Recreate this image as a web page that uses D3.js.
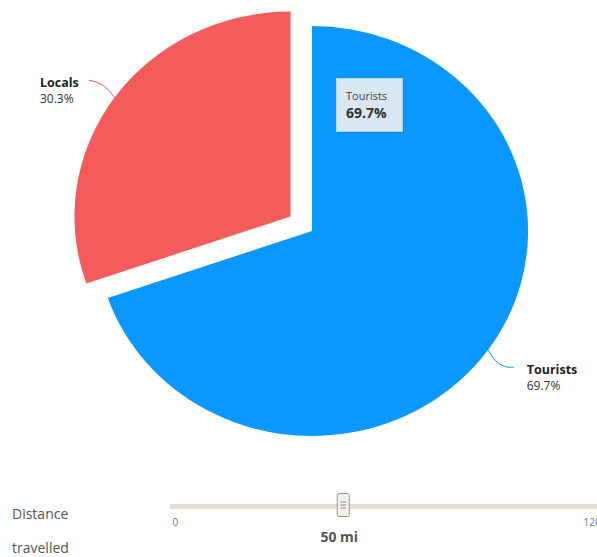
<!DOCTYPE html>
<html>
<head>
<meta charset="utf-8">
<script src="https://cdn.jsdelivr.net/npm/d3@7"></script>
<style>
  body { margin: 0; background: #fff; }
  svg { display: block; font-family: 'Open Sans', sans-serif; }
</style>
</head>
<body>
<div id="app"></div>
<script>
'use strict'

// data
const categories = ['Tourists', 'Locals'];
const shares = [69.7, 30.3];
const colors = ['#0a98fe', '#f45b5b'];
const explodedCategory = 'Locals';
const tooltipCategory = 'Tourists';

const sliderTicks = [0, 120];
const sliderValue = 50;
const sliderUnit = 'mi';
const sliderLabel = ['Distance', 'travelled'];

const width = 597;
const height = 557;

let svg = (
  d3.select('#app')
    .append('svg')
    .attr('width', width)
    .attr('height', height));

// Pie
let cx = 312, cy = 231, r = 205, sx = 1.054, explode = 25;
let pie = d3.pie().sort(null).value((d) => d.value);
let arcs = pie(categories.map((c, i) => ({name: c, value: shares[i], color: colors[i]})));
let arc = d3.arc().innerRadius(0).outerRadius(r);

let midAngle = (d) => (d.startAngle + d.endAngle) / 2;
let offsetOf = (d) => d.data.name == explodedCategory ? explode : 0;
// point at radius rr along the slice middle, in screen coords
let polar = (d, rr) => {
  let a = midAngle(d);
  let o = offsetOf(d);
  return [cx + Math.sin(a) * (rr + o) * sx, cy - Math.cos(a) * (rr + o)];
};

(svg
  .selectAll('path.slice')
    .data(arcs)
  .enter()
    .append('path')
      .attr('class', 'slice')
      .attr('fill', (d) => d.data.color)
      .attr('transform', (d) => {
        let a = midAngle(d), o = offsetOf(d);
        return `translate(${cx + Math.sin(a) * o * sx},${cy - Math.cos(a) * o}) scale(${sx},1)`;
      })
      .attr('d', arc)
);

// Connectors and data labels
arcs.forEach((d) => {
  let right = Math.sin(midAngle(d)) > 0;
  let edge = polar(d, r);
  let end = polar(d, r + 30);
  let sign = right ? -1 : 1;
  svg.append('path')
    .attr('fill', 'none')
    .attr('stroke', d.data.color)
    .attr('stroke-width', 1)
    .attr('d', `M${end[0]},${end[1]} Q${end[0] + sign * 16},${end[1] + 2} ${edge[0]},${edge[1]}`);

  let g = svg.append('g');
  let t1 = g.append('text')
    .attr('y', end[1] + 7)
    .attr('font-size', 12.5)
    .attr('font-weight', 'bold')
    .attr('fill', '#222')
    .text(d.data.name);
  let t2 = g.append('text')
    .attr('y', end[1] + 23)
    .attr('font-size', 12)
    .attr('fill', '#333')
    .text(`${d.data.value}%`);
  let w = Math.max(t1.node().getComputedTextLength(), t2.node().getComputedTextLength());
  let x = right ? end[0] + 13 : end[0] - 10 - w;
  t1.attr('x', x);
  t2.attr('x', x);
});

// Tooltip
let tip = arcs.find((d) => d.data.name == tooltipCategory);
let tg = svg.append('g').attr('transform', 'translate(336,78)');
tg.append('rect')
  .attr('x', 2).attr('y', 2)
  .attr('width', 66).attr('height', 53)
  .attr('fill', 'rgba(0,0,0,0.12)');
tg.append('rect')
  .attr('x', 0.5).attr('y', 0.5)
  .attr('width', 66).attr('height', 53)
  .attr('fill', '#d9e7f3')
  .attr('stroke', '#bcd3e6');
tg.append('text')
  .attr('x', 10).attr('y', 22)
  .attr('font-size', 11)
  .attr('fill', '#444')
  .text(tip.data.name);
tg.append('text')
  .attr('x', 10).attr('y', 40)
  .attr('font-size', 14)
  .attr('font-weight', 'bold')
  .attr('fill', '#333')
  .text(`${tip.data.value}%`);

// Slider
let sliderX = d3.scaleLinear().domain(d3.extent(sliderTicks)).range([172, 583]);
svg.append('rect')
  .attr('x', 170).attr('y', 504)
  .attr('width', 440).attr('height', 5)
  .attr('fill', '#e3ded8');

let axis = (svg.append('g')
  .attr('transform', 'translate(0,516)')
  .call(d3.axisBottom(sliderX).tickValues(sliderTicks).tickSize(0).tickPadding(3)));
axis.select('.domain').remove();
(axis.selectAll('text')
  .attr('font-family', 'Open Sans, sans-serif')
  .attr('font-size', 10)
  .attr('fill', '#777')
  .attr('text-anchor', 'start'));

let hx = sliderX(sliderValue);
svg.append('rect')
  .attr('x', hx - 6).attr('y', 493.5)
  .attr('width', 12).attr('height', 23)
  .attr('rx', 2)
  .attr('fill', '#f4f2ef')
  .attr('stroke', '#9a958f');
[-3, 0, 3].forEach((dy) => {
  svg.append('line')
    .attr('x1', hx - 3).attr('x2', hx + 3)
    .attr('y1', 505 + dy).attr('y2', 505 + dy)
    .attr('stroke', '#8a857f');
});

svg.append('text')
  .attr('x', hx - 4)
  .attr('y', 542)
  .attr('text-anchor', 'middle')
  .attr('font-size', 14)
  .attr('font-weight', 'bold')
  .attr('fill', '#555')
  .text(`${sliderValue} ${sliderUnit}`);

(svg
  .selectAll('text.label')
    .data(sliderLabel)
  .enter()
    .append('text')
      .attr('class', 'label')
      .attr('x', 12)
      .attr('y', (d, i) => 519 + i * 34)
      .attr('font-size', 14)
      .attr('fill', '#555')
      .text((d) => d)
);
</script>
</body>
</html>
